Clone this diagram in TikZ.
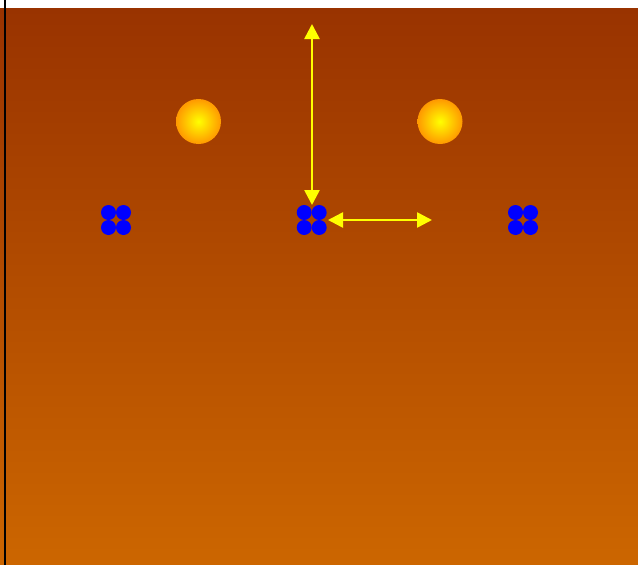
\documentclass[tikz,border=0pt]{standalone}
\usetikzlibrary{arrows.meta}
\definecolor{bgtop}{HTML}{993300}
\definecolor{bgbot}{HTML}{CC6600}
\definecolor{glowin}{HTML}{FFFF00}
\definecolor{glowout}{HTML}{FF9900}
\definecolor{dotblue}{HTML}{0000FF}
\definecolor{arrowyellow}{HTML}{FFFF00}
\tikzset{
  dot/.style={circle, fill=dotblue, draw=none, minimum size=15pt, inner sep=0pt},
  sun/.style={circle, minimum size=45pt, inner sep=0pt, draw=none, inner color=glowin, outer color=glowout},
  yarrow/.style={draw=arrowyellow, line width=2.6pt, {Triangle[length=15pt,width=15pt,fill=arrowyellow]}-{Triangle[length=15pt,width=15pt,fill=arrowyellow]}}
}
\begin{document}
\begin{tikzpicture}[x=1pt,y=-1pt]
\useasboundingbox (0,0) rectangle (638,565);
\fill[white] (0,0) rectangle (638,8);
\shade[top color=bgtop, bottom color=bgbot] (0,8) rectangle (638,565);
\draw[black, line width=1.7pt] (5.2,0) -- (5.2,565);
% glowing circles
\node[sun] (s1) at (198.5,121.5) {};
\node[sun] (s2) at (440,121.5) {};
% dot groups
\foreach \n/\cx in {a/116, b/311.7, c/523} {
  \node[dot] (\n1) at (\cx-7.5,212.5) {};
  \node[dot] (\n2) at (\cx+7.5,212.5) {};
  \node[dot] (\n3) at (\cx-7.5,227.5) {};
  \node[dot] (\n4) at (\cx+7.5,227.5) {};
}
% arrows
\coordinate (vtop) at (312,24);
\coordinate (vbot) at (312,205);
\coordinate (hleft) at (328,220);
\coordinate (hright) at (432,220);
\draw[yarrow] (vtop) -- (vbot);
\draw[yarrow] (hleft) -- (hright);
\end{tikzpicture}
\end{document}
